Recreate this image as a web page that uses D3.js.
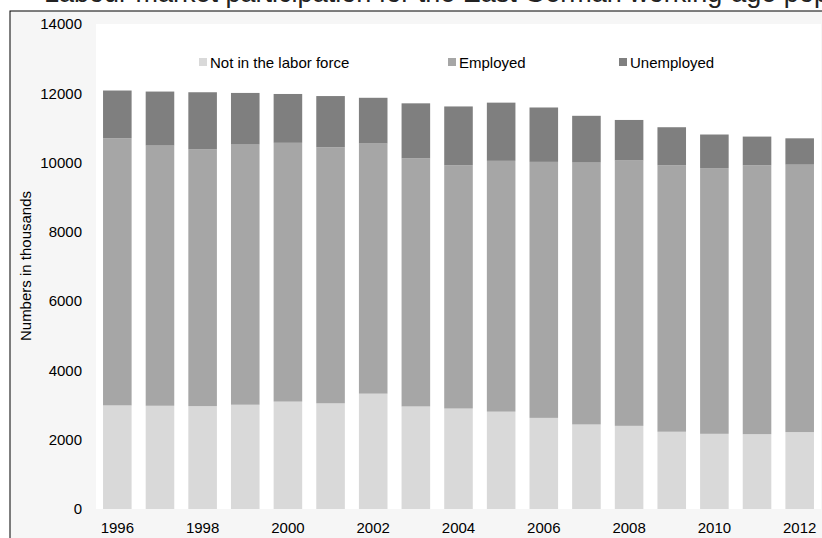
<!DOCTYPE html>
<html>
<head>
<meta charset="utf-8">
<script src="https://cdn.jsdelivr.net/npm/d3@7"></script>
<style>
  body { margin: 0; background: #fff; }
  svg { display: block; font-family: "Liberation Sans", Arial, sans-serif; }
</style>
</head>
<body>
<svg id="chart" width="822" height="538"></svg>
<script>
var years = [1996, 1997, 1998, 1999, 2000, 2001, 2002, 2003, 2004, 2005, 2006, 2007, 2008, 2009, 2010, 2011, 2012];
var notInLaborForce = [2990, 2980, 2970, 3010, 3100, 3050, 3330, 2960, 2900, 2810, 2630, 2440, 2400, 2230, 2170, 2160, 2220];
var employed = [7710, 7510, 7410, 7510, 7470, 7390, 7220, 7160, 7020, 7240, 7390, 7560, 7660, 7690, 7670, 7760, 7720];
var unemployed = [1380, 1560, 1650, 1490, 1410, 1480, 1320, 1590, 1700, 1680, 1570, 1350, 1170, 1100, 970, 830, 760];
var seriesNames = ["Not in the labor force", "Employed", "Unemployed"];
var seriesColors = ["#d9d9d9", "#a6a6a6", "#7f7f7f"];
var yTicks = [0, 2000, 4000, 6000, 8000, 10000, 12000, 14000];
var xTickYears = [1996, 1998, 2000, 2002, 2004, 2006, 2008, 2010, 2012];
var xTickLabels = ["1996", "1998", "2000", "2002", "2004", "2006", "2008", "2010", "2012"];

var svg = d3.select("#chart");

// cut-off title at the very top
svg.append("text")
  .attr("x", 44)
  .attr("y", 2)
  .attr("font-size", 27)
  .attr("fill", "#222")
  .text("Labour market participation for the East German working-age population");

// outer frame
svg.append("rect")
  .attr("x", 10).attr("y", 11)
  .attr("width", 822).attr("height", 538)
  .attr("fill", "#f6f6f6")
  .attr("stroke", "#000")
  .attr("stroke-width", 1);

var plotLeft = 96, plotRight = 821, plotTop = 24, plotBottom = 509;

svg.append("rect")
  .attr("x", plotLeft).attr("y", plotTop)
  .attr("width", plotRight - plotLeft).attr("height", plotBottom - plotTop)
  .attr("fill", "#fff");

var xScale = d3.scaleBand().domain(years).range([plotLeft, plotRight])
  .paddingInner(0.33).paddingOuter(0.165);
var yScale = d3.scaleLinear().domain([0, 14000]).range([plotBottom, plotTop]);

var table = years.map(function(y, i) {
  return { year: y, n0: notInLaborForce[i], n1: employed[i], n2: unemployed[i] };
});
var stack = d3.stack().keys(["n0", "n1", "n2"]);
var layers = stack(table);

svg.append("g").selectAll("g").data(layers).enter()
  .append("g")
  .attr("fill", function(d, i) { return seriesColors[i]; })
  .selectAll("rect").data(function(d) { return d; }).enter()
  .append("rect")
  .attr("x", function(d) { return xScale(d.data.year); })
  .attr("y", function(d) { return yScale(d[1]); })
  .attr("width", xScale.bandwidth())
  .attr("height", function(d) { return yScale(d[0]) - yScale(d[1]); });

var xAxis = d3.axisBottom(xScale)
  .tickValues(xTickYears)
  .tickFormat(function(d, i) { return xTickLabels[i]; })
  .tickSize(0)
  .tickPadding(13.5);
var gx = svg.append("g")
  .attr("transform", "translate(0," + plotBottom + ")")
  .call(xAxis);
gx.select(".domain").remove();

var yAxis = d3.axisLeft(yScale)
  .tickValues(yTicks)
  .tickFormat(d3.format("d"))
  .tickSize(0)
  .tickPadding(14);
var gy = svg.append("g")
  .attr("transform", "translate(" + plotLeft + ",0)")
  .call(yAxis);
gy.select(".domain").remove();

svg.selectAll(".tick text")
  .attr("font-size", 15)
  .attr("font-family", "Liberation Sans, Arial, sans-serif")
  .attr("fill", "#000");

svg.append("text")
  .attr("transform", "translate(31,266) rotate(-90)")
  .attr("text-anchor", "middle")
  .attr("font-size", 15)
  .attr("fill", "#000")
  .text("Numbers in thousands");

// legend
var legendX = [199, 448, 619];
var legend = svg.append("g").selectAll("g").data(seriesNames).enter()
  .append("g")
  .attr("transform", function(d, i) { return "translate(" + legendX[i] + ",58)"; });
legend.append("rect")
  .attr("width", 8).attr("height", 8)
  .attr("fill", function(d, i) { return seriesColors[i]; });
legend.append("text")
  .attr("x", 11).attr("y", 9.5)
  .attr("font-size", 15)
  .attr("fill", "#000")
  .text(function(d) { return d; });
</script>
</body>
</html>
